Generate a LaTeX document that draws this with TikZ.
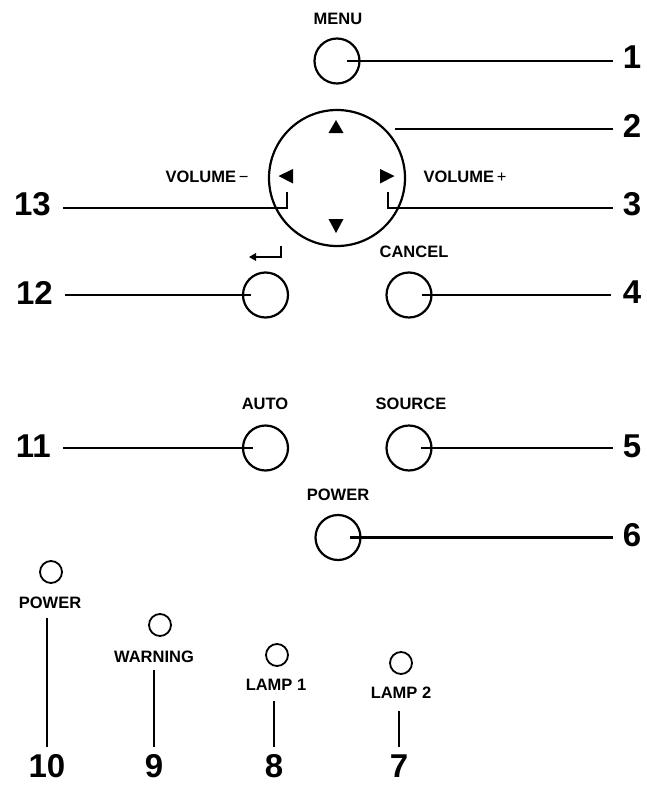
\documentclass[tikz,border=0pt]{standalone}
\usepackage{fontspec}
\setmainfont{Liberation Sans}
\usetikzlibrary{arrows.meta}
\begin{document}
\begin{tikzpicture}[x=1pt,y=-1pt,
  lab/.style={font=\bfseries\fontsize{16.5}{18}\selectfont, inner sep=0pt},
  num/.style={font=\bfseries\fontsize{33}{36}\selectfont, inner sep=0pt},
  btn/.style={draw, circle, line width=2.2pt, minimum size=45pt, inner sep=0pt},
  led/.style={draw, circle, line width=1.8pt, minimum size=22pt, inner sep=0pt},
  lead/.style={line width=2.6pt},
  thinsym/.style={font=\mdseries\fontsize{16.5}{18}\selectfont}]
\useasboundingbox (0,0) rectangle (646,787);

% ---------- MENU ----------
\node[lab] (menuL) at (338,19) {MENU};
\node[btn] (menu) at (337,61) {};
\node[num] (n1) at (632,57) {1};
\draw[lead, shorten >=10pt] ([xshift=10pt]menu.center) -- (menu.center -| n1.west);

% ---------- direction pad ----------
\node[draw, circle, line width=2.2pt, minimum size=136pt, inner sep=0pt] (pad) at (337,178) {};
\fill (328.5,133) -- (343.5,133) -- (336,120) -- cycle;   % up
\fill (328.5,219) -- (343.5,219) -- (336,233) -- cycle;   % down
\fill (293,169) -- (293,183.5) -- (278.5,176) -- cycle;   % left
\fill (380,169) -- (380,183.5) -- (394.5,176) -- cycle;   % right
\node[lab] (volm) at (207,177) {VOLUME{\mdseries\,−}};
\node[lab] (volp) at (465,177) {VOLUME{\mdseries\,+}};

\coordinate (c2) at (395,129);
\node[num] (n2) at (632,125.5) {2};
\draw[lead, shorten >=10pt] (c2) -- (c2 -| n2.west);

\coordinate (k3) at (388,192);
\coordinate (j3) at (388,208);
\node[num] (n3) at (632,204.5) {3};
\draw[lead, shorten >=10pt] (k3) -- (j3) -- (j3 -| n3.west);

\coordinate (k13) at (287,192);
\coordinate (j13) at (287,208);
\node[num, anchor=east] (n13) at (51,204.5) {13};
\draw[lead, shorten >=12pt] (k13) -- (j13) -- (j13 -| n13.east);

% ---------- enter / cancel ----------
\draw[line width=2pt, -{Triangle[length=7pt,width=7.5pt]}] (280.5,246) -- (280.5,257) -- (249,257);
\node[btn] (enter) at (265.5,295) {};
\node[num, anchor=east] (n12) at (53,292.5) {12};
\draw[lead, shorten >=12pt] ([xshift=-15pt]enter.center) -- (enter.center -| n12.east);

\node[lab] (cancelL) at (414,252) {CANCEL};
\node[btn] (cancel) at (409,295) {};
\node[num] (n4) at (632,292.5) {4};
\draw[lead, shorten >=12pt] ([xshift=13pt]cancel.center) -- (cancel.center -| n4.west);

% ---------- auto / source ----------
\node[lab] (autoL) at (265,404) {AUTO};
\node[btn] (auto) at (265.5,448) {};
\node[num, anchor=east] (n11) at (51,446) {11};
\draw[lead, shorten >=12pt] ([xshift=-12.5pt]auto.center) -- (auto.center -| n11.east);

\node[lab] (sourceL) at (411,404) {SOURCE};
\node[btn] (source) at (409,448) {};
\node[num] (n5) at (632,446) {5};
\draw[lead, shorten >=10pt] ([xshift=12pt]source.center) -- (source.center -| n5.west);

% ---------- power button ----------
\node[lab] (powerL) at (338,495) {POWER};
\node[btn] (power) at (338,537.5) {};
\node[num] (n6) at (632,535.5) {6};
\draw[lead, shorten >=10pt] ([xshift=12pt]power.center) -- (power.center -| n6.west);

% ---------- LEDs ----------
\node[led] (l10) at (51,572) {};
\node[lab] (t10) at (50,603) {POWER};
\node[num] (n10) at (47,766) {10};
\draw[lead, shorten <=9pt, shorten >=7pt] (n10.north |- t10.south) -- (n10.north);

\node[led] (l9) at (160,625) {};
\node[lab] (t9) at (154,657) {WARNING};
\node[num] (n9) at (154,766) {9};
\draw[lead, shorten <=7pt, shorten >=7pt] (n9.north |- t9.south) -- (n9.north);

\node[led] (l8) at (277,655) {};
\node[lab] (t8) at (276,685) {LAMP 1};
\node[num] (n8) at (274,766) {8};
\draw[lead, shorten <=10pt, shorten >=7pt] (n8.north |- t8.south) -- (n8.north);

\node[led] (l7) at (401,663) {};
\node[lab] (t7) at (401,693) {LAMP 2};
\node[num] (n7) at (399,766) {7};
\draw[lead, shorten <=12pt, shorten >=7pt] (n7.north |- t7.south) -- (n7.north);
\end{tikzpicture}
\end{document}
